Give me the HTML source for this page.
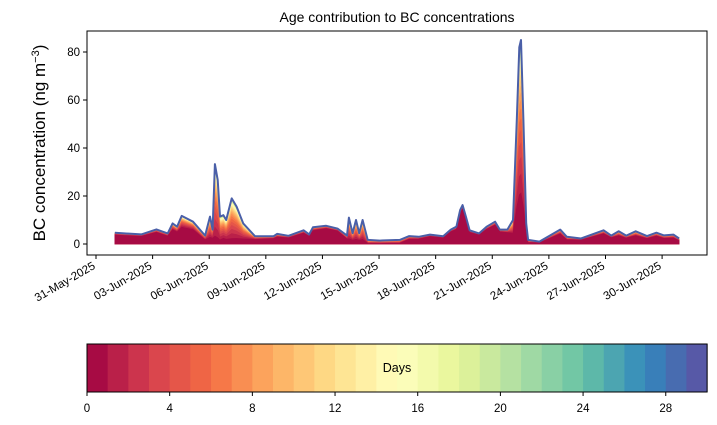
<!DOCTYPE html>
<html><head><meta charset="utf-8">
<style>
body{margin:0;background:#fff;}
svg{display:block;font-family:"Liberation Sans","DejaVu Sans",sans-serif;}
</style></head>
<body>
<svg id="chart" width="717" height="425" viewBox="0 0 717 425" xmlns="http://www.w3.org/2000/svg">
<rect width="717" height="425" fill="#fff"/>
<text x="397" y="22" text-anchor="middle" font-size="14">Age contribution to BC concentrations</text>
<text transform="translate(45,143) rotate(-90)" text-anchor="middle" font-size="17">BC concentration (ng m<tspan baseline-shift="super" font-size="11">−3</tspan>)</text>
<g id="plot"></g>
<g id="cbar"></g>
</svg>
<script>
// days since 31-May-2025
const days =  [1.0,1.5,2.4,3.2,3.8,4.06,4.3,4.54,5.14,5.78,6.04,6.18,6.3,6.45,6.57,6.75,6.9,7.19,7.45,7.8,8.43,9.4,9.6,10.2,11.0,11.3,11.5,12.2,12.8,13.3,13.4,13.6,13.78,13.95,14.13,14.4,15.04,16.1,16.6,17.1,17.7,18.4,18.8,19.1,19.3,19.43,19.6,19.8,20.3,20.7,21.15,21.4,21.8,22.1,22.3,22.43,22.52,22.65,22.8,22.9,23.5,24.6,24.95,25.7,26.9,27.3,27.7,28.1,28.6,29.2,29.7,30.1,30.6,30.9];
const total = [4.7,4.4,4.0,6.1,4.4,8.6,7.2,11.7,9.3,3.5,11.4,6.0,33.3,26.7,11.4,12.0,10.0,19.0,15.6,8.6,3.2,3.2,4.2,3.4,5.7,4.0,7.0,7.6,6.4,3.5,11.0,4.5,10.0,4.5,10.0,1.7,1.4,1.7,3.3,3.0,3.9,3.2,6.0,7.2,14.2,16.2,11.4,5.7,4.4,7.2,9.3,6.0,6.0,10.0,51.7,82.0,85.0,51.7,8.6,1.7,1.0,6.0,3.0,2.3,5.7,3.5,5.3,3.5,5.3,3.3,4.7,3.6,3.9,2.3];
const youngShare = [0.8,0.8,0.8,0.8,0.75,0.7,0.7,0.6,0.65,0.5,0.25,0.4,0.1,0.1,0.15,0.2,0.2,0.12,0.15,0.25,0.6,0.7,0.7,0.75,0.8,0.8,0.8,0.85,0.85,0.6,0.2,0.35,0.2,0.35,0.2,0.15,0.15,0.2,0.6,0.7,0.8,0.8,0.85,0.85,0.9,0.9,0.9,0.85,0.85,0.85,0.85,0.85,0.8,0.45,0.3,0.25,0.25,0.3,0.45,0.35,0.5,0.7,0.6,0.7,0.75,0.75,0.65,0.7,0.65,0.7,0.7,0.65,0.65,0.6];
const xTickDays = [0,3,6,9,12,15,18,21,24,27,30];
const xTickLabels = ["31-May-2025","03-Jun-2025","06-Jun-2025","09-Jun-2025","12-Jun-2025","15-Jun-2025","18-Jun-2025","21-Jun-2025","24-Jun-2025","27-Jun-2025","30-Jun-2025"];
const yTicks = [0,20,40,60,80];
const cbTicks = [0,4,8,12,16,20,24,28];
const nBins = 30;
const decayRatio = 0.88;

const NS="http://www.w3.org/2000/svg";
const L=87,R=707,T=31,B=255;
const x = d => 96 + d*18.87;
const y = v => 244 - v*2.4;
function mk(tag,attrs,parent){const e=document.createElementNS(NS,tag);for(const k in attrs)e.setAttribute(k,attrs[k]);parent.appendChild(e);return e;}
const spec=["#9e0142","#d53e4f","#f46d43","#fdae61","#fee08b","#ffffbf","#e6f598","#abdda4","#66c2a5","#3288bd","#5e4fa2"];
function hx(c){return [1,3,5].map(i=>parseInt(c.substr(i,2),16));}
function cmap(t){const p=t*(spec.length-1);const i=Math.min(Math.floor(p),spec.length-2);const f=p-i;const a=hx(spec[i]),b=hx(spec[i+1]);return "rgb("+a.map((v,j)=>Math.round(v+(b[j]-v)*f)).join(",")+")";}
const binColor=k=>cmap((k+0.5)/nBins);

const plot=document.getElementById('plot');
const cum = days.map((d,i)=>{
  const out=[];let rest=1-youngShare[i];let w=[];let s=0;
  for(let k=1;k<nBins;k++){const v=Math.pow(decayRatio,k-1);w.push(v);s+=v;}
  let acc=youngShare[i]*total[i];out.push(acc);
  for(let k=1;k<nBins;k++){acc+=total[i]*rest*w[k-1]/s;out.push(acc);}
  return out;
});
for(let k=nBins-1;k>=0;k--){
  let p="M"+x(days[0])+","+y(0);
  days.forEach((d,i)=>{p+=" L"+x(d).toFixed(1)+","+y(cum[i][k]).toFixed(1);});
  p+=" L"+x(days[days.length-1])+","+y(0)+" Z";
  const e=mk('path',{d:p,fill:binColor(k),stroke:binColor(k),'stroke-width':0.6},plot);
  
  
}
let lp="";days.forEach((d,i)=>{lp+=(i?" L":"M")+x(d).toFixed(1)+","+y(total[i]).toFixed(1);});
const tl=mk('path',{d:lp,fill:'none',stroke:'#4a5fa8','stroke-width':2,'stroke-linejoin':'round'},plot);


const fr=mk('rect',{x:L,y:T,width:R-L,height:B-T,fill:'none',stroke:'#000','stroke-width':1},plot);


yTicks.forEach(v=>{
  mk('line',{x1:L-4,x2:L,y1:y(v),y2:y(v),stroke:'#000'},plot);
  const t=mk('text',{x:L-7,y:y(v)+4,'text-anchor':'end','font-size':11.5},plot);
  t.textContent=v;
  
  
});
xTickDays.forEach((d,i)=>{
  mk('line',{x1:x(d),x2:x(d),y1:B,y2:B+4,stroke:'#000'},plot);
  const t=mk('text',{transform:"translate("+(x(d))+","+(B+13)+") rotate(-30)",'text-anchor':'end','font-size':11.5},plot);
  t.textContent=xTickLabels[i];
  
  
});
const cb=document.getElementById('cbar');
const cx=v=>87+v*20.67, cT=344, cB=392;
for(let k=0;k<nBins;k++){
  const r=mk('rect',{x:cx(k),y:cT,width:20.67+0.5,height:cB-cT,fill:binColor(k)},cb);
  
  
}
mk('rect',{x:cx(0),y:cT,width:cx(nBins)-cx(0),height:cB-cT,fill:'none',stroke:'#000'},cb);
cbTicks.forEach(v=>{
  mk('line',{x1:cx(v),x2:cx(v),y1:cB,y2:cB+4,stroke:'#000'},cb);
  const t=mk('text',{x:cx(v),y:cB+20,'text-anchor':'middle','font-size':11.5},cb);
  t.textContent=v;
  
  
});
const lab=mk('text',{x:397,y:372,'text-anchor':'middle','font-size':12.5},cb);
lab.textContent="Days";


</script>
</body></html>
